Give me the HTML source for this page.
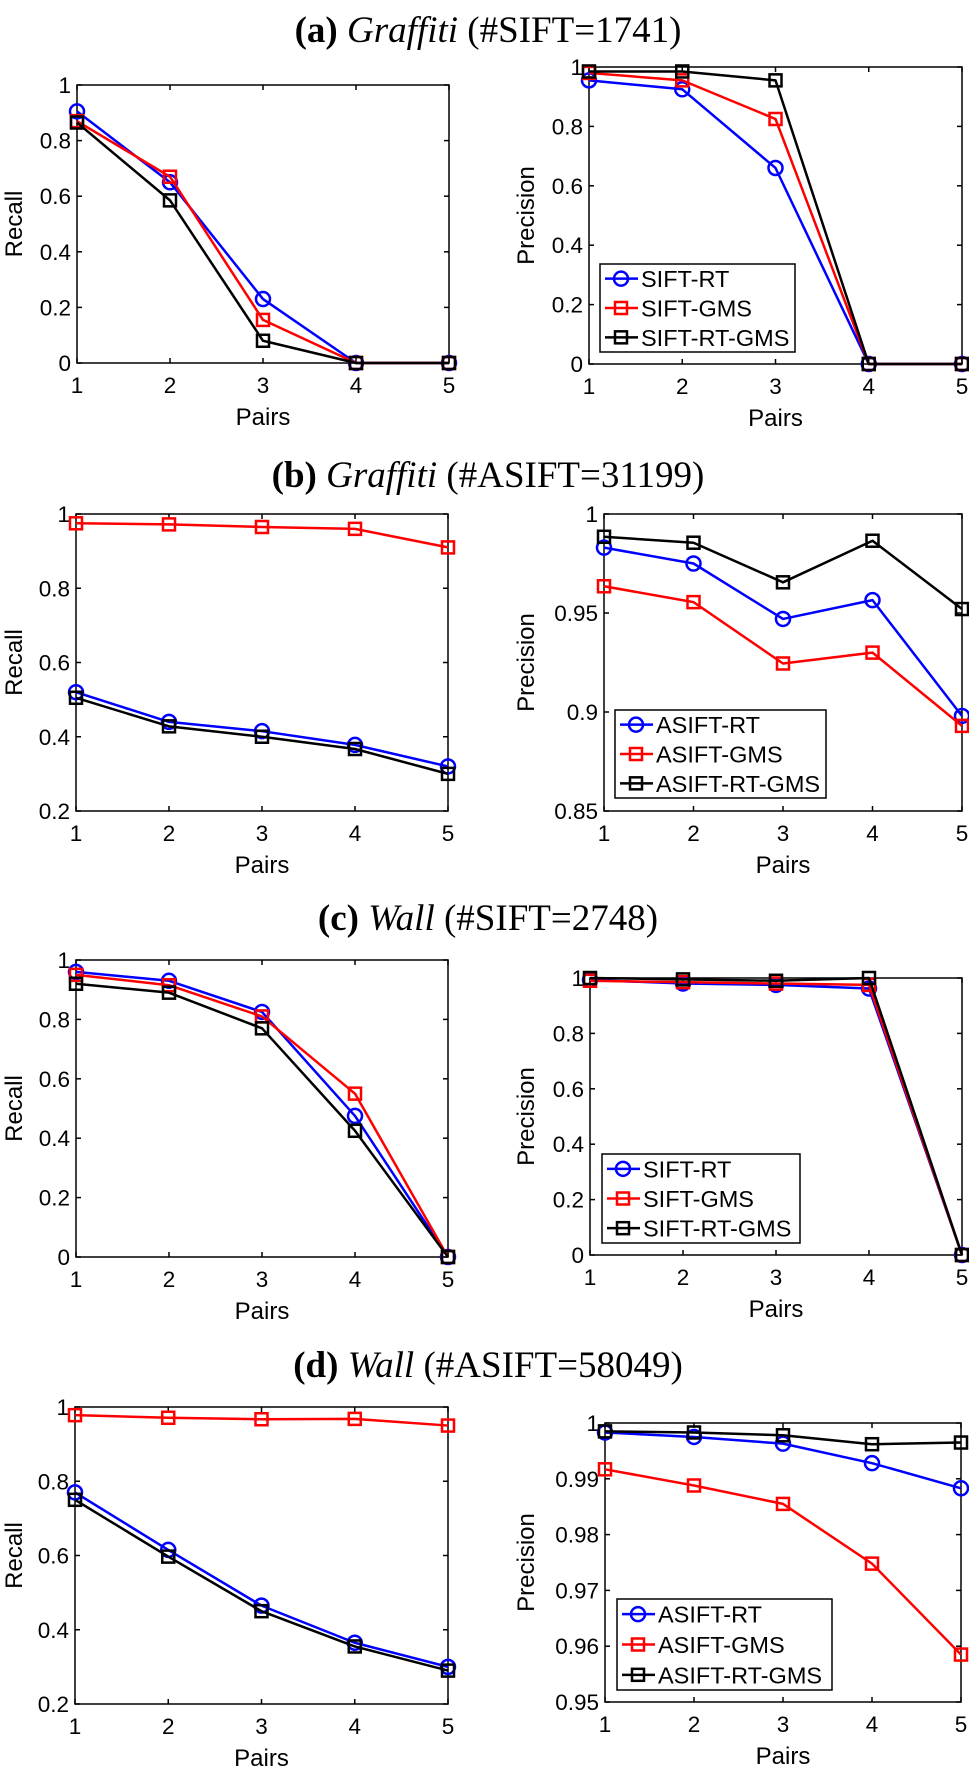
<!DOCTYPE html>
<html><head><meta charset="utf-8">
<style>
html,body{margin:0;padding:0;background:#fff;}
svg{display:block;}
.tk{font-family:"Liberation Sans",sans-serif;font-size:22.5px;fill:#000;}
.al{font-family:"Liberation Sans",sans-serif;font-size:24px;fill:#000;}
.lg{font-family:"Liberation Sans",sans-serif;font-size:23.5px;fill:#000;}
.tt{font-family:"Liberation Serif",serif;font-size:37px;fill:#000;}
</style></head>
<body>
<svg id="fig" width="969" height="1770" viewBox="0 0 969 1770" xmlns="http://www.w3.org/2000/svg"></svg>
<script>
const categories = [1, 2, 3, 4, 5];
// (a)
const aRecallRT = [0.905, 0.65, 0.23, 0, 0];
const aRecallGMS = [0.87, 0.67, 0.155, 0, 0];
const aRecallRTGMS = [0.865, 0.585, 0.08, 0, 0];
const aPrecRT = [0.955, 0.925, 0.66, 0, 0];
const aPrecGMS = [0.98, 0.955, 0.825, 0, 0];
const aPrecRTGMS = [0.985, 0.985, 0.955, 0, 0];
// (b)
const bRecallRT = [0.52, 0.44, 0.415, 0.378, 0.32];
const bRecallGMS = [0.975, 0.972, 0.965, 0.96, 0.91];
const bRecallRTGMS = [0.505, 0.428, 0.4, 0.367, 0.3];
const bPrecRT = [0.983, 0.975, 0.947, 0.9565, 0.898];
const bPrecGMS = [0.9635, 0.9555, 0.9245, 0.930, 0.893];
const bPrecRTGMS = [0.9885, 0.9855, 0.9655, 0.9865, 0.952];
// (c)
const cRecallRT = [0.96, 0.93, 0.825, 0.475, 0];
const cRecallGMS = [0.95, 0.915, 0.81, 0.55, 0];
const cRecallRTGMS = [0.92, 0.89, 0.77, 0.425, 0];
const cPrecRT = [0.993, 0.98, 0.975, 0.962, 0];
const cPrecGMS = [0.99, 0.985, 0.98, 0.975, 0];
const cPrecRTGMS = [1.0, 0.995, 0.99, 1.0, 0];
// (d)
const dRecallRT = [0.77, 0.615, 0.465, 0.365, 0.3];
const dRecallGMS = [0.978, 0.971, 0.967, 0.968, 0.95];
const dRecallRTGMS = [0.75, 0.597, 0.45, 0.355, 0.29];
const dPrecRT = [0.9983, 0.9975, 0.9963, 0.9928, 0.9883];
const dPrecGMS = [0.9917, 0.9888, 0.9855, 0.9748, 0.9585];
const dPrecRTGMS = [0.9985, 0.9983, 0.9978, 0.9962, 0.9965];
// tick labels
const ticks01 = ["0", "0.2", "0.4", "0.6", "0.8", "1"];
const ticks21 = ["0.2", "0.4", "0.6", "0.8", "1"];
const ticks851 = ["0.85", "0.9", "0.95", "1"];
const ticks951 = ["0.95", "0.96", "0.97", "0.98", "0.99", "1"];
const xTicks = ["1", "2", "3", "4", "5"];
const titles = [
  {lab:"(a)", name:"Graffiti", rest:" (#SIFT=1741)"},
  {lab:"(b)", name:"Graffiti", rest:" (#ASIFT=31199)"},
  {lab:"(c)", name:"Wall", rest:" (#SIFT=2748)"},
  {lab:"(d)", name:"Wall", rest:" (#ASIFT=58049)"}
];

const NS = "http://www.w3.org/2000/svg";
const svg = document.getElementById('fig');
function mk(tag, attrs, parent) {
  const e = document.createElementNS(NS, tag);
  for (const k in attrs) e.setAttribute(k, attrs[k]);
  (parent || svg).appendChild(e);
  return e;
}
const COL = {RT:"#0000ff", GMS:"#ff0000", RTGMS:"#000000"};

function marker(g, kind, x, y, color) {
  let m;
  if (kind === 'o') m = mk('circle', {cx:x, cy:y, r:7, fill:'none', stroke:color, 'stroke-width':2.5}, g);
  else m = mk('rect', {x:x-6, y:y-6, width:12, height:12, fill:'none', stroke:color, 'stroke-width':2.5}, g);
  
  
}

function plot(p) {
  const g = mk('g', {});
  
  
  const xs = v => p.l + (v - 1) / 4 * (p.r - p.l);
  const ys = v => p.b - (v - p.ymin) / (p.ymax - p.ymin) * (p.b - p.t);
  const n = p.yt.length;
  p.yt.forEach((lab, i) => {
    const v = p.ymin + i * (p.ymax - p.ymin) / (n - 1);
    const y = ys(v);
    mk('line', {x1:p.l, y1:y, x2:p.l+5, y2:y, stroke:'#000', 'stroke-width':1.5}, g);
    mk('line', {x1:p.r, y1:y, x2:p.r-5, y2:y, stroke:'#000', 'stroke-width':1.5}, g);
    const t = mk('text', {x:p.l-6, y:y+8, 'text-anchor':'end', class:'tk'}, g);
    t.textContent = lab;
    
    
  });
  categories.forEach((c, i) => {
    const x = xs(c);
    mk('line', {x1:x, y1:p.b, x2:x, y2:p.b-5, stroke:'#000', 'stroke-width':1.5}, g);
    mk('line', {x1:x, y1:p.t, x2:x, y2:p.t+5, stroke:'#000', 'stroke-width':1.5}, g);
    const t = mk('text', {x:x, y:p.b+30, 'text-anchor':'middle', class:'tk'}, g);
    t.textContent = xTicks[i];
    
    
  });
  const box = mk('rect', {x:p.l, y:p.t, width:p.r-p.l, height:p.b-p.t, fill:'none', stroke:'#000', 'stroke-width':1.5}, g);
  
  
  const xl = mk('text', {x:(p.l+p.r)/2, y:p.b+62, 'text-anchor':'middle', class:'al'}, g);
  xl.textContent = 'Pairs';
  
  
  const cy = (p.t+p.b)/2;
  const yl = mk('text', {x:0, y:0, 'text-anchor':'middle', class:'al', transform:`translate(${p.yx},${cy}) rotate(-90)`}, g);
  yl.textContent = p.ylab;
  
  
  p.series.forEach(s => {
    const pts = s.vals.map((v, i) => xs(categories[i]) + ',' + ys(v)).join(' ');
    const pl = mk('polyline', {points:pts, fill:'none', stroke:COL[s.key], 'stroke-width':2.5, 'stroke-linejoin':'round'}, g);
    
    
    s.vals.forEach((v, i) => marker(g, s.m, xs(categories[i]), ys(v), COL[s.key]));
  });
  if (p.leg) {
    const L = p.leg;
    const lg = mk('g', {}, g);
    
    
    mk('rect', {x:L.x, y:L.y, width:L.w, height:L.h, fill:'#fff', stroke:'#000', 'stroke-width':1.5}, lg);
    const rh = L.h / 3;
    L.items.forEach((it, i) => {
      const y = L.y + rh * (i + 0.5);
      const e = mk('g', {}, lg);
      
      
      mk('line', {x1:L.x+5, y1:y, x2:L.x+38, y2:y, stroke:COL[it.key], 'stroke-width':2.5}, e);
      marker(e, it.m, L.x+21, y, COL[it.key]);
      const t = mk('text', {x:L.x+41, y:y+8.5, class:'lg'}, e);
      t.textContent = it.label;
    });
  }
}

function title(i, cy) {
  const T = titles[i];
  const t = mk('text', {x:488, y:cy+12, 'text-anchor':'middle', class:'tt'});
  
  
  const a = mk('tspan', {'font-weight':'bold'}, t); a.textContent = T.lab + ' ';
  const b = mk('tspan', {'font-style':'italic'}, t); b.textContent = T.name;
  const c = mk('tspan', {}, t); c.textContent = T.rest;
}

function ser(pre, rt, gms, rtgms) {
  return [{key:'RT', m:'o', vals:rt}, {key:'GMS', m:'s', vals:gms}, {key:'RTGMS', m:'s', vals:rtgms}];
}
function legItems(pre) {
  return [{key:'RT', m:'o', label:pre+'-RT'}, {key:'GMS', m:'s', label:pre+'-GMS'}, {key:'RTGMS', m:'s', label:pre+'-RT-GMS'}];
}

title(0, 30); title(1, 475); title(2, 918); title(3, 1365);

plot({name:'recall-chart-a', l:77, r:449, t:85, b:363, ymin:0, ymax:1, yt:ticks01, ylab:'Recall', yx:22,
  series:ser('SIFT', aRecallRT, aRecallGMS, aRecallRTGMS)});
plot({name:'precision-chart-a', l:589, r:962, t:67, b:364, ymin:0, ymax:1, yt:ticks01, ylab:'Precision', yx:534,
  series:ser('SIFT', aPrecRT, aPrecGMS, aPrecRTGMS),
  leg:{x:600, y:264, w:195, h:88, items:legItems('SIFT')}});
plot({name:'recall-chart-b', l:76, r:448, t:514, b:811, ymin:0.2, ymax:1, yt:ticks21, ylab:'Recall', yx:22,
  series:ser('ASIFT', bRecallRT, bRecallGMS, bRecallRTGMS)});
plot({name:'precision-chart-b', l:604, r:962, t:514, b:811, ymin:0.85, ymax:1, yt:ticks851, ylab:'Precision', yx:534,
  series:ser('ASIFT', bPrecRT, bPrecGMS, bPrecRTGMS),
  leg:{x:615, y:710, w:211, h:88, items:legItems('ASIFT')}});
plot({name:'recall-chart-c', l:76, r:448, t:960, b:1257, ymin:0, ymax:1, yt:ticks01, ylab:'Recall', yx:22,
  series:ser('SIFT', cRecallRT, cRecallGMS, cRecallRTGMS)});
plot({name:'precision-chart-c', l:590, r:962, t:978, b:1255, ymin:0, ymax:1, yt:ticks01, ylab:'Precision', yx:534,
  series:ser('SIFT', cPrecRT, cPrecGMS, cPrecRTGMS),
  leg:{x:602, y:1154, w:198, h:89, items:legItems('SIFT')}});
plot({name:'recall-chart-d', l:75, r:448, t:1407, b:1704, ymin:0.2, ymax:1, yt:ticks21, ylab:'Recall', yx:22,
  series:ser('ASIFT', dRecallRT, dRecallGMS, dRecallRTGMS)});
plot({name:'precision-chart-d', l:605, r:961, t:1423, b:1702, ymin:0.95, ymax:1, yt:ticks951, ylab:'Precision', yx:534,
  series:ser('ASIFT', dPrecRT, dPrecGMS, dPrecRTGMS),
  leg:{x:617, y:1599, w:215, h:91, items:legItems('ASIFT')}});
</script>
</body></html>
